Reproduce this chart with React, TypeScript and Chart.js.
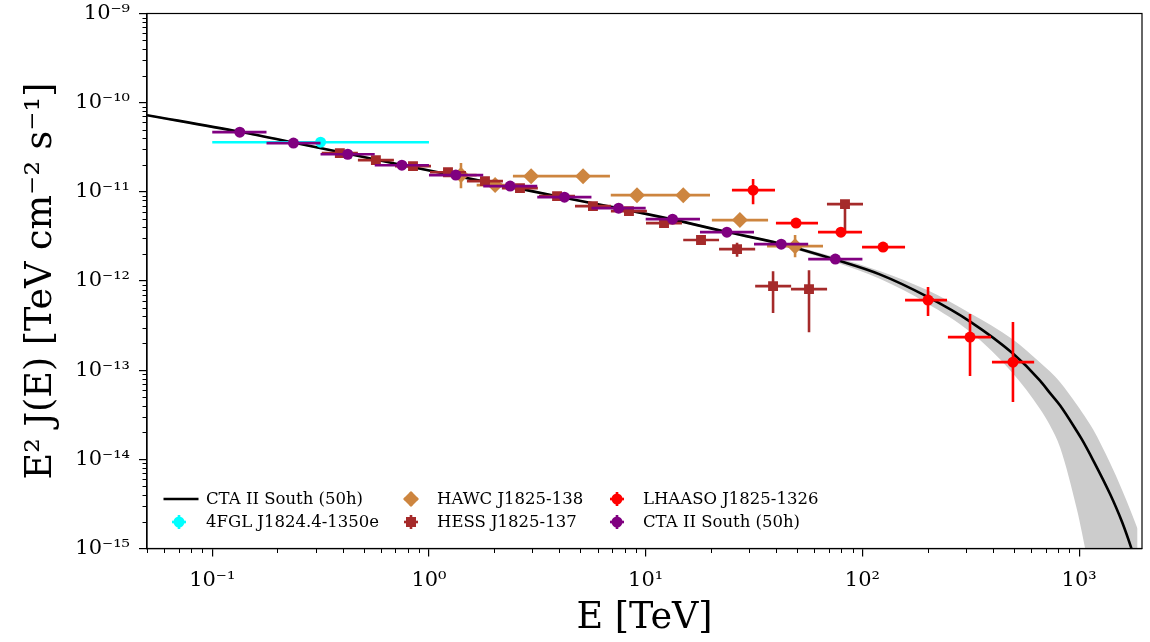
import React, { useEffect, useRef } from "react";
import { Chart, registerables } from "chart.js";

Chart.register(...registerables);

// ---------------- axis ticks ----------------
const X_MIN = 0.05;
const X_MAX = 1950;
const Y_MIN = 1e-15;
const Y_MAX = 1e-9;
const X_TICKS = [0.1, 1, 10, 100, 1000];
const Y_TICKS = [1e-15, 1e-14, 1e-13, 1e-12, 1e-11, 1e-10, 1e-9];

// ---------------- model curve (CTA II South 50h) ----------------
const MODEL_E = [0.05, 0.134, 0.236, 0.418, 0.759, 1.35, 2.37, 4.15, 7.53, 13.2, 23.5, 41.7, 74.8, 121, 199, 314, 495, 660, 734, 817, 978, 1031, 1159, 1389, 1578, 1736, 1860];
const MODEL_FLUX = [7.24e-11, 4.71e-11, 3.58e-11, 2.69e-11, 1.99e-11, 1.5e-11, 1.14e-11, 8.65e-12, 6.52e-12, 4.91e-12, 3.56e-12, 2.62e-12, 1.74e-12, 1.18e-12, 6.68e-13, 3.51e-13, 1.535e-13, 7.64e-14, 5.53e-14, 4.01e-14, 2.05e-14, 1.66e-14, 9.82e-15, 4.08e-15, 1.98e-15, 1.03e-15, 6.0e-16];
const BAND_HI = [7.43e-11, 4.83e-11, 3.67e-11, 2.76e-11, 2.04e-11, 1.54e-11, 1.17e-11, 8.88e-12, 6.69e-12, 5.04e-12, 3.67e-12, 2.72e-12, 1.85e-12, 1.29e-12, 7.91e-13, 4.36e-13, 2.21e-13, 1.22e-13, 9.64e-14, 7.3e-14, 4.06e-14, 3.38e-14, 2.17e-14, 9.08e-15, 4.53e-15, 2.56e-15, 1.66e-15];
const BAND_LO = [7.05e-11, 4.59e-11, 3.49e-11, 2.62e-11, 1.94e-11, 1.46e-11, 1.11e-11, 8.43e-12, 6.35e-12, 4.78e-12, 3.45e-12, 2.52e-12, 1.63e-12, 1.05e-12, 5.61e-13, 2.69e-13, 9.2e-14, 3.68e-14, 2.39e-14, 1.355e-14, 2.7e-15, 1.49e-15, 3.4e-16, 2.6e-17, 3e-18, 1e-18, 5e-19];

// ---------------- 4FGL J1824.4-1350e ----------------
const FGL_E = [0.3162];
const FGL_E_LO = [0.1];
const FGL_E_HI = [1.0];
const FGL_FLUX = [3.6e-11];

// ---------------- HAWC J1825-138 ----------------
const HAWC_E = [1.405, 2.02, 2.96, 5.14, 9.12, 14.9, 27.2, 48.9];
const HAWC_E_LO = [1.27, 1.66, 2.44, 3.9, 6.9, 11.6, 20.2, 36.3];
const HAWC_E_HI = [1.66, 2.44, 3.9, 6.84, 11.6, 19.8, 36.7, 65.8];
const HAWC_FLUX = [1.54e-11, 1.19e-11, 1.5e-11, 1.5e-11, 9.18e-12, 9.18e-12, 4.82e-12, 2.46e-12];
const HAWC_FLUX_LO = [1.1e-11, 1.12e-11, 1.42e-11, 1.43e-11, 8.7e-12, 8.6e-12, 4.4e-12, 1.85e-12];
const HAWC_FLUX_HI = [2.1e-11, 1.27e-11, 1.58e-11, 1.57e-11, 9.7e-12, 9.8e-12, 5.3e-12, 3.27e-12];

// ---------------- HESS J1825-137 ----------------
const HESS_E = [0.388, 0.569, 0.844, 1.224, 1.813, 2.63, 3.9, 5.71, 8.37, 12.15, 18.0, 26.4, 38.7, 56.7, 83.1];
const HESS_E_LO = [0.32, 0.47, 0.697, 1.011, 1.497, 2.17, 3.22, 4.72, 6.91, 10.03, 14.9, 21.8, 32.0, 46.8, 68.6];
const HESS_E_HI = [0.47, 0.689, 1.022, 1.482, 2.195, 3.18, 4.72, 6.91, 10.13, 14.7, 21.8, 32.0, 46.9, 68.7, 100.6];
const HESS_FLUX = [2.72e-11, 2.27e-11, 1.94e-11, 1.66e-11, 1.32e-11, 1.1e-11, 8.95e-12, 6.92e-12, 6.08e-12, 4.46e-12, 2.88e-12, 2.28e-12, 8.77e-13, 8.11e-13, 7.28e-12];
const HESS_FLUX_LO = [2.62e-11, 2.18e-11, 1.86e-11, 1.58e-11, 1.26e-11, 1.04e-11, 8.4e-12, 6.4e-12, 5.6e-12, 4.0e-12, 2.67e-12, 1.87e-12, 4.37e-13, 2.67e-13, 3.44e-12];
const HESS_FLUX_HI = [2.82e-11, 2.36e-11, 2.02e-11, 1.74e-11, 1.38e-11, 1.16e-11, 9.5e-12, 7.4e-12, 6.55e-12, 4.95e-12, 3.1e-12, 2.68e-12, 1.29e-12, 1.32e-12, 8.07e-12];

// ---------------- LHAASO J1825-1326 ----------------
const LH_E = [31.3, 49.4, 79.6, 124.5, 200.8, 313.7, 495];
const LH_E_LO = [25.0, 39.9, 62.4, 99.6, 157.3, 248, 396];
const LH_E_HI = [39.5, 62.4, 99.6, 157.3, 245.7, 392, 620];
const LH_FLUX = [1.045e-11, 4.46e-12, 3.53e-12, 2.4e-12, 6.11e-13, 2.35e-13, 1.23e-13];
const LH_FLUX_LO = [7.28e-12, 3.92e-12, 3.25e-12, 2.22e-12, 4.05e-13, 8.6e-14, 4.4e-14];
const LH_FLUX_HI = [1.39e-11, 5.07e-12, 3.85e-12, 2.6e-12, 8.55e-13, 4.26e-13, 3.47e-13];

// ---------------- CTA II South (50h) simulated points ----------------
const CTA_E = [0.134, 0.237, 0.422, 0.75, 1.33, 2.37, 4.22, 7.5, 13.3, 23.7, 42.2, 75.0];
const CTA_E_LO = [0.1, 0.178, 0.316, 0.562, 1.0, 1.78, 3.16, 5.62, 10.0, 17.8, 31.6, 56.2];
const CTA_E_HI = [0.178, 0.316, 0.562, 1.0, 1.78, 3.16, 5.62, 10.0, 17.8, 31.6, 56.2, 100];
const CTA_FLUX = [4.67e-11, 3.52e-11, 2.64e-11, 1.99e-11, 1.54e-11, 1.16e-11, 8.72e-12, 6.56e-12, 4.94e-12, 3.53e-12, 2.59e-12, 1.76e-12];

// ---------------- styles ----------------
const C_CTA = "#800080";
const C_LH = "#ff0000";
const C_HESS = "#a52a2a";
const C_HAWC = "#cd853f";
const C_FGL = "#00ffff";
const C_BAND = "#cccccc";
const SERIF = '"DejaVu Serif", "Liberation Serif", serif';
const EBW = 2.6;

const SUP: Record<string, string> = {
  "0": "\u2070", "1": "\u00b9", "2": "\u00b2", "3": "\u00b3", "4": "\u2074",
  "5": "\u2075", "6": "\u2076", "7": "\u2077", "8": "\u2078", "9": "\u2079", "-": "\u207b",
};
const powLabel = (v: number) => {
  const e = Math.round(Math.log10(v));
  return "10" + String(e).split("").map((c) => SUP[c]).join("");
};

const pts = (xs: number[], ys: number[]) => xs.map((x, i) => ({ x, y: ys[i] }));
const hBars = (lo: number[], hi: number[], ys: number[]) =>
  lo.flatMap((l, i) => [{ x: l, y: ys[i] }, { x: hi[i], y: ys[i] }, { x: hi[i], y: null as any }]);
const vBars = (xs: number[], lo: number[], hi: number[]) =>
  xs.flatMap((x, i) => [{ x, y: lo[i] }, { x, y: hi[i] }, { x, y: null as any }]);

const barDs = (data: any[], color: string, order: number) => ({
  type: "line" as const, data, borderColor: color, borderWidth: EBW, pointRadius: 0,
  fill: false, tension: 0, order, spanGaps: false, showLine: true,
});
const markDs = (data: any[], color: string, style: string, radius: number, order: number) => ({
  type: "scatter" as const, data, pointStyle: style, pointRadius: radius, backgroundColor: color,
  borderColor: color, borderWidth: 0, showLine: false, order,
});

const framePlugin = {
  id: "frameMinor",
  afterDraw(chart: any) {
    const { ctx, chartArea, scales } = chart;
    const xs = scales.x;
    const ys = scales.y;
    ctx.save();
    ctx.strokeStyle = "#000";
    ctx.lineWidth = 1;
    ctx.beginPath();
    for (let k = -2; k <= 3; k++) {
      for (let m = 2; m <= 9; m++) {
        const v = m * Math.pow(10, k);
        if (v < xs.min || v > xs.max) continue;
        const p = Math.round(xs.getPixelForValue(v)) + 0.5;
        ctx.moveTo(p, chartArea.bottom);
        ctx.lineTo(p, chartArea.bottom + 4.5);
      }
    }
    for (let k = -16; k <= -9; k++) {
      for (let m = 2; m <= 9; m++) {
        const v = m * Math.pow(10, k);
        if (v < ys.min || v > ys.max) continue;
        const p = Math.round(ys.getPixelForValue(v)) + 0.5;
        ctx.moveTo(chartArea.left, p);
        ctx.lineTo(chartArea.left - 4.5, p);
      }
    }
    ctx.stroke();
    ctx.lineWidth = 1.2;
    ctx.strokeRect(chartArea.left, chartArea.top, chartArea.right - chartArea.left, chartArea.bottom - chartArea.top);
    ctx.restore();
  },
};

function ChartCanvas() {
  const ref = useRef<HTMLCanvasElement | null>(null);
  useEffect(() => {
    if (!ref.current) return;
    const datasets: any[] = [
      markDs(pts(CTA_E, CTA_FLUX), C_CTA, "circle", 5.5, 0),
      barDs(hBars(CTA_E_LO, CTA_E_HI, CTA_FLUX), C_CTA, 1),
      markDs(pts(LH_E, LH_FLUX), C_LH, "circle", 5.5, 2),
      barDs(hBars(LH_E_LO, LH_E_HI, LH_FLUX), C_LH, 3),
      barDs(vBars(LH_E, LH_FLUX_LO, LH_FLUX_HI), C_LH, 3),
      markDs(pts(HESS_E, HESS_FLUX), C_HESS, "rect", 7, 4),
      barDs(hBars(HESS_E_LO, HESS_E_HI, HESS_FLUX), C_HESS, 5),
      barDs(vBars(HESS_E, HESS_FLUX_LO, HESS_FLUX_HI), C_HESS, 5),
      markDs(pts(HAWC_E, HAWC_FLUX), C_HAWC, "rectRot", 8, 6),
      barDs(hBars(HAWC_E_LO, HAWC_E_HI, HAWC_FLUX), C_HAWC, 7),
      barDs(vBars(HAWC_E, HAWC_FLUX_LO, HAWC_FLUX_HI), C_HAWC, 7),
      markDs(pts(FGL_E, FGL_FLUX), C_FGL, "circle", 5.5, 8),
      barDs(hBars(FGL_E_LO, FGL_E_HI, FGL_FLUX), C_FGL, 9),
      {
        type: "line", data: pts(MODEL_E, MODEL_FLUX), borderColor: "#000", borderWidth: 2.6,
        pointRadius: 0, fill: false, cubicInterpolationMode: "monotone", order: 10, showLine: true,
      },
      {
        type: "line", data: pts(MODEL_E, BAND_HI), borderWidth: 0, borderColor: "rgba(0,0,0,0)",
        backgroundColor: C_BAND, pointRadius: 0, fill: "+1", cubicInterpolationMode: "monotone",
        order: 11, showLine: true,
      },
      {
        type: "line", data: pts(MODEL_E, BAND_LO), borderWidth: 0, borderColor: "rgba(0,0,0,0)",
        pointRadius: 0, fill: false, cubicInterpolationMode: "monotone", order: 12, showLine: true,
      },
    ];
    const chart = new Chart(ref.current, {
      type: "scatter",
      data: { datasets },
      options: {
        animation: false,
        responsive: false,
        events: [],
        layout: { padding: { left: 0, top: 13.5, right: 8, bottom: 0 } },
        plugins: { legend: { display: false }, tooltip: { enabled: false } },
        scales: {
          x: {
            type: "logarithmic",
            position: "bottom",
            min: X_MIN,
            max: X_MAX,
            afterBuildTicks: (s: any) => {
              s.ticks = X_TICKS.map((v) => ({ value: v, major: true }));
            },
            afterFit: (s: any) => {
              s.height = 93.5;
              s.paddingLeft = 0;
              s.paddingRight = 0;
            },
            ticks: {
              autoSkip: false,
              maxRotation: 0,
              minRotation: 0,
              padding: 11,
              color: "#000",
              font: { family: SERIF, size: 21 },
              callback: (v: any) => powLabel(Number(v)),
            },
            grid: { display: true, drawOnChartArea: false, drawTicks: true, tickLength: 8, color: "#000", lineWidth: 1.2 },
            border: { display: true, color: "#000", width: 1.2 },
            title: {
              display: true,
              text: "E [TeV]",
              color: "#000",
              font: { family: SERIF, size: 36.5 },
              padding: { top: 0, bottom: 2 },
            },
          },
          y: {
            type: "logarithmic",
            position: "left",
            min: Y_MIN,
            max: Y_MAX,
            afterBuildTicks: (s: any) => {
              s.ticks = Y_TICKS.map((v) => ({ value: v, major: true }));
            },
            afterFit: (s: any) => {
              s.width = 147;
              s.paddingTop = 0;
              s.paddingBottom = 0;
            },
            ticks: {
              autoSkip: false,
              padding: 9,
              color: "#000",
              font: { family: SERIF, size: 21 },
              callback: (v: any) => powLabel(Number(v)),
            },
            grid: { display: true, drawOnChartArea: false, drawTicks: true, tickLength: 8, color: "#000", lineWidth: 1.2 },
            border: { display: true, color: "#000", width: 1.2 },
            title: {
              display: true,
              text: "E\u00b2 J(E) [TeV cm\u207b\u00b2 s\u207b\u00b9]",
              color: "#000",
              font: { family: SERIF, size: 36.5 },
              padding: { top: 20, bottom: 0 },
            },
          },
        },
      } as any,
      plugins: [framePlugin],
    });
    return () => chart.destroy();
  }, []);
  return <canvas ref={ref} width={1150} height={642} style={{ width: 1150, height: 642, display: "block" }} />;
}

type Shape = "line" | "circle" | "square" | "diamond";

function Icon({ cx, cy, shape, color }: { cx: number; cy: number; shape: Shape; color: string }) {
  const s = 40;
  const h = s / 2;
  return (
    <svg width={s} height={s} style={{ position: "absolute", left: cx - h, top: cy - h, overflow: "visible" }}>
      {shape === "line" ? (
        <line x1={h - 17.5} y1={h} x2={h + 17.5} y2={h} stroke={color} strokeWidth={2.6} />
      ) : (
        <g>
          <line x1={h - 7} y1={h} x2={h + 7} y2={h} stroke={color} strokeWidth={EBW} />
          <line x1={h} y1={h - 7} x2={h} y2={h + 7} stroke={color} strokeWidth={EBW} />
          {shape === "circle" && <circle cx={h} cy={h} r={5.5} fill={color} />}
          {shape === "square" && <rect x={h - 5} y={h - 5} width={10} height={10} fill={color} />}
          {shape === "diamond" && <polygon points={`${h},${h - 8} ${h + 8},${h} ${h},${h + 8} ${h - 8},${h}`} fill={color} />}
        </g>
      )}
    </svg>
  );
}

const LEGEND_ITEMS: { label: string; shape: Shape; color: string; ix: number; tx: number; y: number }[] = [
  { label: "CTA II South (50h)", shape: "line", color: "#000", ix: 180.5, tx: 206, y: 499 },
  { label: "4FGL J1824.4-1350e", shape: "circle", color: C_FGL, ix: 179, tx: 206, y: 522 },
  { label: "HAWC J1825-138", shape: "diamond", color: C_HAWC, ix: 411, tx: 437, y: 499 },
  { label: "HESS J1825-137", shape: "square", color: C_HESS, ix: 411, tx: 437, y: 522 },
  { label: "LHAASO J1825-1326", shape: "circle", color: C_LH, ix: 617, tx: 643, y: 499 },
  { label: "CTA II South (50h)", shape: "circle", color: C_CTA, ix: 617, tx: 643, y: 522 },
];

export default function App() {
  return (
    <div style={{ position: "absolute", left: 0, top: 0, width: 1150, height: 642, background: "#fff", overflow: "hidden" }}>
      <ChartCanvas />
      {LEGEND_ITEMS.map((it, i) => (
        <React.Fragment key={i}>
          <Icon cx={it.ix} cy={it.y} shape={it.shape} color={it.color} />
          <div
            style={{
              position: "absolute",
              left: it.tx,
              top: it.y - 11,
              height: 22,
              lineHeight: "22px",
              fontFamily: SERIF,
              fontSize: 16.5,
              color: "#000",
              whiteSpace: "nowrap",
            }}
          >
            {it.label}
          </div>
        </React.Fragment>
      ))}
    </div>
  );
}
